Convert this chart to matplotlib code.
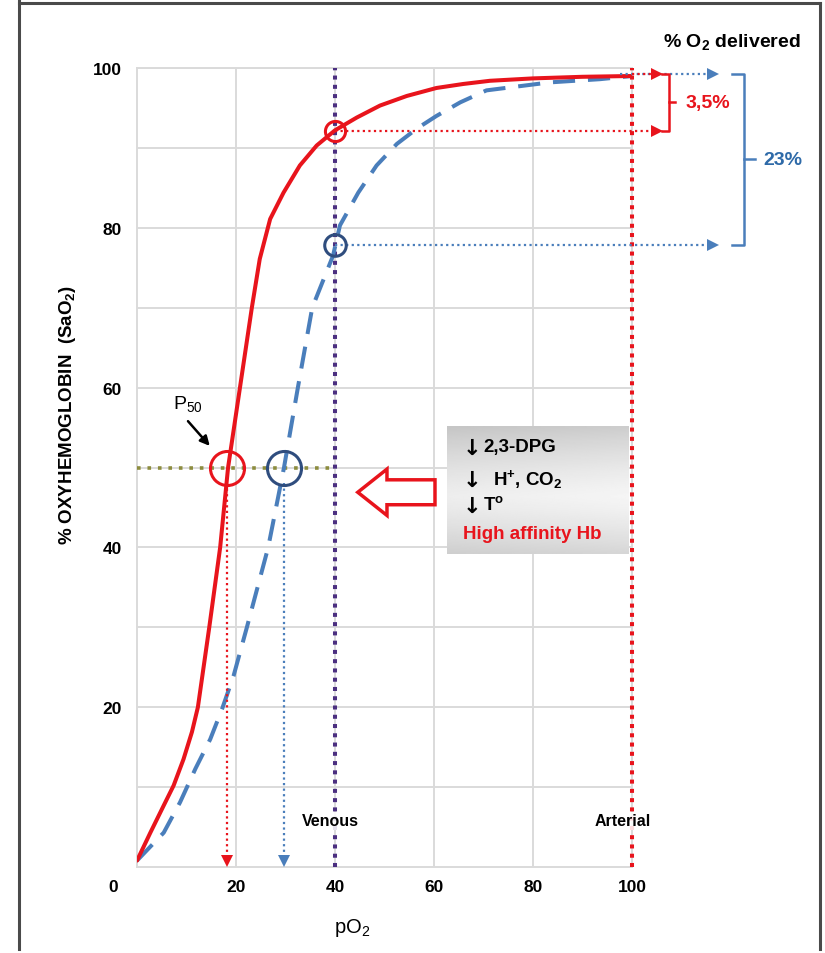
import numpy as np
import matplotlib
matplotlib.use('Agg')
import matplotlib.pyplot as plt
from matplotlib.patches import Polygon
from matplotlib.lines import Line2D

plt.rcParams['font.family'] = ['Liberation Sans', 'DejaVu Sans']
plt.rcParams['mathtext.fontset'] = 'custom'
plt.rcParams['mathtext.rm'] = 'Liberation Sans'
plt.rcParams['mathtext.bf'] = 'Liberation Sans:bold'
plt.rcParams['mathtext.it'] = 'Liberation Sans:italic'

# ---------------- data ----------------
po2_high = [0, 2.7, 5.4, 7.4, 9.4, 11.1, 12.3, 14.6, 16.8, 18.4, 20.8, 23.2, 24.8, 26.9,
            29.6, 32.9, 36.3, 40, 44.4, 49.1, 54.5, 60.5, 65.9, 71.3, 80, 90, 100]
sat_high = [0.8, 4.3, 7.7, 10.2, 13.5, 16.9, 20, 30, 40, 50, 60, 70, 76.1, 81.1,
            84.4, 87.8, 90.3, 92.2, 93.8, 95.3, 96.5, 97.5, 98.0, 98.4, 98.7, 98.9, 99.0]
po2_normal = [0, 5.4, 8.7, 11.8, 14.8, 17.2, 19.5, 22.2, 26.5, 29.7, 32.5, 35.4, 39.6, 41.0,
              44.7, 48.4, 52.5, 56.5, 60.5, 65.3, 70.6, 83.4, 93.5, 100]
sat_normal = [0.8, 4.3, 8.1, 12.3, 16.0, 19.8, 23.9, 30, 40, 50, 60, 70, 76.5, 80.3,
              84.4, 87.8, 90.5, 92.4, 94.0, 95.7, 97.2, 98.2, 98.6, 99.0]

x_ticks = [20, 40, 60, 80, 100]
y_ticks = [20, 40, 60, 80, 100]
y_minor = [10, 30, 50, 70, 90]

p50_sat = 50
p50_high = 18.2
p50_normal = 29.7
venous_po2 = 40
arterial_po2 = 100
sat_venous_high = 92.1
sat_venous_normal = 77.9
sat_arterial = 99.3
delivered_high = '3,5%'
delivered_normal = '23%'
box_arrows = ['\u2193', '\u2193', '\u2193', '']
box_lines = ['2,3-DPG',
             'H$^{\\mathbf{+}}$, CO$_{\\mathbf{2}}$',
             'T$^{\\mathbf{o}}$',
             'High affinity Hb']

# ---------------- style ----------------
RED = '#e8141c'
BLUE = '#4a7ebb'
NAVY = '#2f4d7e'
PURPLE = '#4b2f80'
OLIVE = '#8c8c3e'
GRID = '#dadada'

W, H = 825, 954
fig = plt.figure(figsize=(W / 100, H / 100), dpi=100)
fig.patch.set_facecolor('white')
L, R, T, B = 137, 632, 69, 868
ax = fig.add_axes([L / W, 1 - B / H, (R - L) / W, (B - T) / H])
ax.set_xlim(0, 100)
ax.set_ylim(0, 100)

# outer frame
for xs, ys in [([19, 19], [0, 950]), ([19, 820], [4, 4]), ([820, 820], [4, 950])]:
    fig.add_artist(Line2D([x / W for x in xs], [1 - y / H for y in ys],
                          transform=fig.transFigure, color='#4a4a4a', lw=2.2))

# grid / spines
ax.set_xticks(x_ticks)
ax.set_yticks(y_ticks)
ax.set_yticks(y_minor, minor=True)
ax.grid(True, which='both', color=GRID, lw=1.4)
ax.set_axisbelow(True)
for s in ax.spines.values():
    s.set_color(GRID)
    s.set_linewidth(1.4)
ax.tick_params(which='both', length=0)
ax.tick_params(axis='y', pad=11, labelsize=12.5)
ax.tick_params(axis='x', pad=9, labelsize=12.5)
for lab in ax.get_xticklabels() + ax.get_yticklabels():
    lab.set_fontweight('bold')
ax.text(-4.85, -2.4, '0', ha='center', va='center', fontsize=12.5, fontweight='bold', clip_on=False)

# gray box with gradient
v = np.linspace(0, 1, 120)[:, None]
u = np.linspace(0, 1, 160)[None, :]
grad = 0.93 - 0.34 * np.abs(v - 0.55) ** 1.3 + 0.03 * u
ax.imshow(grad, extent=(62.6, 99.2, 39.2, 55.2), origin='upper', aspect='auto',
          cmap='gray', vmin=0, vmax=1, zorder=2)
ax.set_xlim(0, 100)
ax.set_ylim(0, 100)

# vertical reference lines
ax.plot([venous_po2, venous_po2], [0, 100], color=PURPLE, lw=2.9, ls=(0, (1, 1.3)), zorder=3,
        clip_on=False)
ax.plot([arterial_po2, arterial_po2], [0, 100], color=RED, lw=2.9, ls=(0, (1, 1.3)), zorder=3,
        clip_on=False)
# P50 horizontal
ax.plot([0, venous_po2], [p50_sat, p50_sat], color=OLIVE, lw=2.6, ls=(0, (1, 1.9)), zorder=3)

# curves
ax.plot(po2_high, sat_high, color=RED, lw=2.9, zorder=5, solid_capstyle='round',
        solid_joinstyle='round')
ax.plot(po2_normal, sat_normal, color=BLUE, lw=2.9, ls=(0, (5.5, 3.2)), zorder=4,
        dash_joinstyle='round')


def harrow(x0, x1, y, color):
    ax.plot([x0, x1 - 1.2], [y, y], color=color, lw=1.6, ls=(0, (1, 1.5)), zorder=6, clip_on=False)
    ax.plot([x1 - 1.1], [y], marker='>', color=color, ms=8, mew=0, zorder=7, clip_on=False)


def varrow(x, y0, y1, color):
    ax.plot([x, x], [y0, y1 + 1.0], color=color, lw=1.6, ls=(0, (1, 1.5)), zorder=6, clip_on=False)
    ax.plot([x], [y1 + 0.75], marker='v', color=color, ms=8, mew=0, zorder=7, clip_on=False)


# delivery arrows
harrow(97.5, 117.4, sat_arterial, BLUE)
harrow(venous_po2, 117.4, sat_venous_normal, BLUE)
harrow(arterial_po2, 106.1, sat_arterial, RED)
harrow(venous_po2, 106.1, sat_venous_high, RED)

# P50 drop arrows
varrow(p50_high, p50_sat - 2, 0, RED)
varrow(p50_normal, p50_sat - 2, 0, BLUE)

# circles
ax.plot([p50_high], [p50_sat], marker='o', ms=24.5, mfc='none', mec=RED, mew=2.2, zorder=8)
ax.plot([p50_normal], [p50_sat], marker='o', ms=24.5, mfc='none', mec=NAVY, mew=2.2, zorder=8)
ax.plot([venous_po2], [sat_venous_high], marker='o', ms=14.5, mfc='none', mec=RED, mew=2.2, zorder=8)
ax.plot([venous_po2], [sat_venous_normal], marker='o', ms=15.5, mfc='none', mec=NAVY, mew=2.2, zorder=8)

# brackets
ax.plot([106.1, 107.5, 107.5, 106.1], [sat_arterial, sat_arterial, sat_venous_high, sat_venous_high],
        color=RED, lw=1.8, clip_on=False, zorder=6)
mid_r = (sat_arterial + sat_venous_high) / 2
ax.plot([107.5, 108.7], [mid_r, mid_r], color=RED, lw=1.8, clip_on=False)
ax.plot([120.2, 122.6, 122.6, 120.2], [sat_arterial, sat_arterial, sat_venous_normal, sat_venous_normal],
        color=BLUE, lw=1.8, clip_on=False)
mid_b = (sat_arterial + sat_venous_normal) / 2
ax.plot([122.6, 124.8], [mid_b, mid_b], color=BLUE, lw=1.8, clip_on=False)

ax.text(110.9, mid_r, delivered_high, color=RED, fontsize=14, fontweight='bold', va='center',
        ha='left', clip_on=False)
ax.text(126.5, mid_b, delivered_normal, color='#2e6aa8', fontsize=14, fontweight='bold', va='center',
        ha='left', clip_on=False)
ax.text(120.2, 103.4, '% O$_{\\mathbf{2}}$ delivered', fontsize=14, fontweight='bold',
        ha='center', va='center', clip_on=False)

# labels on lines
ax.text(venous_po2 - 1, 5.8, 'Venous', ha='center', va='center', fontsize=11.5, fontweight='bold',
        bbox=dict(facecolor='white', edgecolor='none', alpha=0.85, pad=1), zorder=9)
ax.text(arterial_po2 - 1.8, 5.8, 'Arterial', ha='center', va='center', fontsize=11.5, fontweight='bold',
        bbox=dict(facecolor='white', edgecolor='none', alpha=0.85, pad=1), zorder=9)

# P50 label and arrow
ax.text(10.3, 58.1, 'P$_{50}$', ha='center', va='center', fontsize=14)
ax.annotate('', xy=(14.7, 52.7), xytext=(10.3, 55.8),
            arrowprops=dict(arrowstyle='-|>', color='black', lw=1.8, mutation_scale=14,
                            shrinkA=0, shrinkB=0), zorder=9)

# hollow arrow
arrow_pts = [(44.6, 46.9), (50.5, 49.8), (50.5, 48.46), (60.2, 48.46), (60.2, 45.34),
             (50.5, 45.34), (50.5, 44.0)]
ax.add_patch(Polygon(arrow_pts, closed=True, facecolor='white', edgecolor=RED, lw=2.5, zorder=6))

# box text
text_x = [69.9, 71.9, 69.9, 65.9]
for arr, txt, xx, yy, col in zip(box_arrows, box_lines, text_x, [52.6, 48.6, 45.4, 41.7],
                                 ['black', 'black', 'black', RED]):
    if arr:
        ax.text(65.7, yy - 0.2, arr, color='black', fontsize=16, fontweight='bold',
                family='DejaVu Sans', va='center', ha='left', zorder=7)
    ax.text(xx, yy, txt, color=col, fontsize=13.5, fontweight='bold', va='center', ha='left', zorder=7)

# axis titles
fig.text(352 / W, 1 - 928 / H, 'pO$_2$', ha='center', va='center', fontsize=14.5)
fig.text(67 / W, 1 - 415 / H, '% OXYHEMOGLOBIN  (SaO$_{\\mathbf{2}}$)', rotation=90,
         ha='center', va='center', fontsize=13.5, fontweight='bold')

fig.savefig('out.png', dpi=100)
